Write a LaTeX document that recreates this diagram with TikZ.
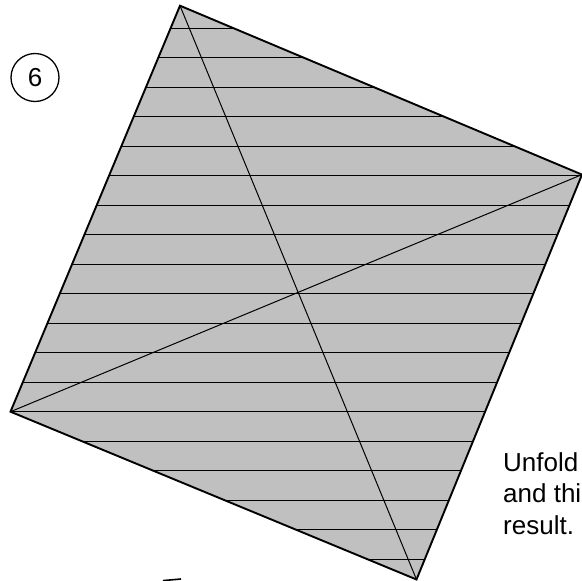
\documentclass[tikz,border=0pt]{standalone}
\usepackage{fontspec}
\setmainfont{Liberation Sans}
\usepackage{tikz}
\usetikzlibrary{calc}
\definecolor{paper}{HTML}{C0C0C0}
\tikzset{
  edgeline/.style={line width=1.9pt,line join=miter},
  creaseline/.style={line width=1pt},
  diagline/.style={line width=1pt},
  steplabel/.style={shape=circle,draw,line width=1.3pt,inner sep=0pt,minimum size=48pt,font=\fontsize{26}{26}\selectfont},
  notelabel/.style={anchor=north west,inner sep=0pt,align=left,font=\fontsize{26}{31.5}\selectfont}
}
\newcommand{\crease}[1]{ \draw[creaseline] (0,#1) -- (582,#1);}

\begin{document}
\begin{tikzpicture}[x=1pt,y=-1pt]
\useasboundingbox (0,0) rectangle (582,581);
% corners of the sheet
\coordinate (top) at (180,5.7);
\coordinate (right) at (582,174.6);
\coordinate (bottom) at (416.5,579.5);
\coordinate (left) at (10.5,411.7);
\fill[paper] (top) -- (right) -- (bottom) -- (left) -- cycle;
% horizontal creases
\begin{scope}
\clip (top) -- (right) -- (bottom) -- (left) -- cycle;
\foreach \row in {0,...,18} {
  \crease{28.3+29.51*\row}
}
\end{scope}
% diagonals
\draw[diagline] (top) -- (bottom);
\draw[diagline] (left) -- (right);
% outline
\draw[edgeline] (top) -- (right) -- (bottom) -- (left) -- cycle;
% labels
\node[steplabel] (stepsix) at (35,77.5) {6};
\node[notelabel] (note) at (503,452) {Unfold\\and thi\\result.};
% stub at the lower edge
\coordinate (stubl) at (163,580.6);
\coordinate (stubr) at (181,579);
\draw[line width=1.6pt] (stubl) -- (stubr);
\end{tikzpicture}
\end{document}
